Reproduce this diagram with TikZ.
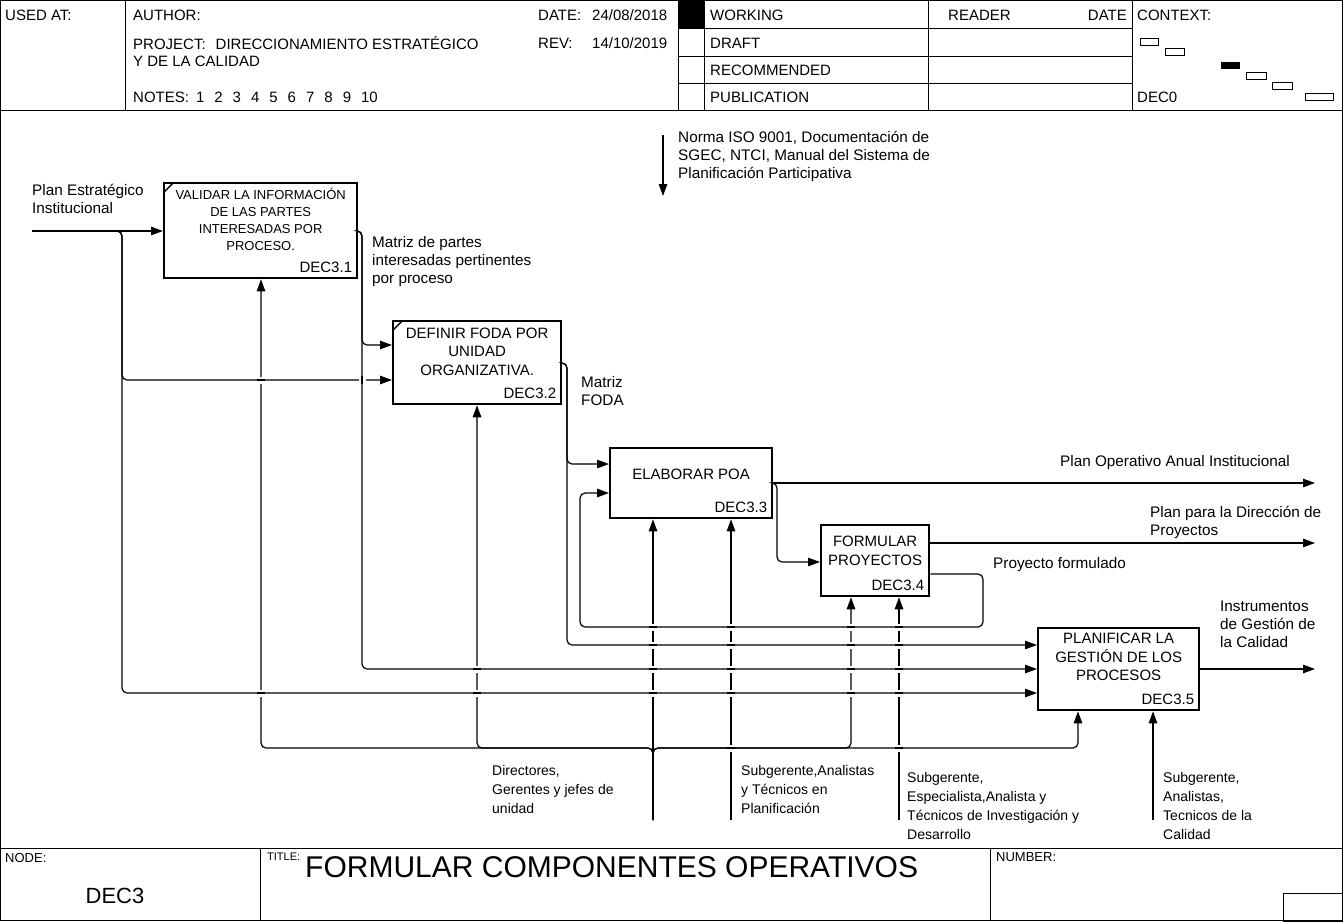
\documentclass[tikz,border=0pt]{standalone}
\usepackage{fontspec}
\setmainfont{Liberation Sans}
\usetikzlibrary{arrows.meta,positioning}

\tikzset{
  frame/.style={line width=0.9pt},
  func/.style={draw, line width=2.3pt, anchor=north west, align=center, inner sep=2pt,
    text depth=22pt, font=\fontsize{15}{18.5}\selectfont},
  flow/.style={line width=1.2pt, rounded corners=5pt},
  tip/.style={-{Triangle[length=12pt,width=8.5pt]}},
  lbl/.style={anchor=north west, align=left, inner sep=0pt, font=\fontsize{15.3}{18}\selectfont},
  mech/.style={anchor=north west, align=left, inner sep=0pt, font=\fontsize{14}{19}\selectfont},
  hdr/.style={anchor=west, inner sep=0pt, font=\fontsize{15}{18}\selectfont},
  nodeid/.style={anchor=south east, inner sep=0pt, xshift=-6pt, yshift=6pt,
    font=\fontsize{15}{18}\selectfont},
}
% gap in a vertical line where a horizontal one crosses it
\newcommand{\xgap}[2]{%
  \fill[white] (#1-1.6,#2-3.5) rectangle (#1+1.6,#2+3.5);
  \draw[line width=1.2pt] (#1-4,#2) -- (#1+4,#2);}
% gap in a horizontal line where a vertical one crosses it
\newcommand{\ygap}[2]{%
  \fill[white] (#1-3.5,#2-1.6) rectangle (#1+3.5,#2+1.6);
  \draw[line width=1.2pt] (#1,#2-4) -- (#1,#2+4);}

\begin{document}
\begin{tikzpicture}[x=1pt, y=-1pt]
  \useasboundingbox (0,0) rectangle (1343,921);

  % frame, header and footer
  \draw[frame] (0.5,0.5) rectangle (1342.5,920.5);
  \draw[frame] (0,110) -- (1343,110);
  \draw[frame] (0,848) -- (1343,848);
  \foreach \x in {125,678,704,928,1132} \draw[frame] (\x,0) -- (\x,110);
  \foreach \y in {28,56,83} \draw[frame] (678,\y) -- (1132,\y);
  \fill (678,0) rectangle (704,28);
  \draw[frame] (260,848) -- (260,921);
  \draw[frame] (990,848) -- (990,921);
  \draw[frame] (1283,893) rectangle (1343,921);

  \node[hdr] (usedat) at (5,15) {USED AT:};
  \node[hdr] (author) at (133,15) {AUTHOR:};
  \node[hdr] (date) at (538,15) {DATE:};
  \node[hdr] (dateval) at (592,15) {24/08/2018};
  \node[hdr] (project) at (133,43) {PROJECT:\hspace{10pt}DIRECCIONAMIENTO ESTRATÉGICO};
  \node[hdr] (rev) at (538,43) {REV:};
  \node[hdr] (revval) at (592,43) {14/10/2019};
  \node[hdr] (project2) at (133,61) {Y DE LA CALIDAD};
  \node[hdr] (notes) at (133,97) {NOTES:\hspace{7pt}1\hspace{10pt}2\hspace{10pt}3\hspace{10pt}4\hspace{10pt}5\hspace{10pt}6\hspace{10pt}7\hspace{10pt}8\hspace{10pt}9\hspace{10pt}10};
  \node[hdr] (working) at (710,15) {WORKING};
  \node[hdr] (draft) at (710,43) {DRAFT};
  \node[hdr] (recom) at (710,70) {RECOMMENDED};
  \node[hdr] (publ) at (710,97) {PUBLICATION};
  \node[hdr] (reader) at (948,15) {READER};
  \node[hdr, anchor=east] (rdate) at (1127,15) {DATE};
  \node[hdr] (context) at (1137,15) {CONTEXT:};
  \node[hdr] (dec0) at (1137,97) {DEC0};
  \foreach \a/\b/\c/\d in {1140/38/1158/45, 1165/48/1184/55, 1246/72/1266/79,
                           1272/82/1292/89, 1305/93/1333/100}
    \draw[line width=0.8pt] (\a,\b) rectangle (\c,\d);
  \fill (1221,62) rectangle (1240,69);

  \node[hdr, font=\fontsize{13}{16}\selectfont] (nodelbl) at (5,858) {NODE:};
  \node[font=\fontsize{22}{26}\selectfont] (nodenum) at (115,896) {DEC3};
  \node[hdr, font=\fontsize{11}{14}\selectfont] (titlelbl) at (267,857) {TITLE:};
  \node[hdr, font=\fontsize{30}{34}\selectfont] (title) at (305,867) {FORMULAR COMPONENTES OPERATIVOS};
  \node[hdr, font=\fontsize{13}{16}\selectfont] (numlbl) at (996,857) {NUMBER:};

  % activities
  \node[func, minimum width=193pt, minimum height=95pt, font=\fontsize{13}{17}\selectfont,
        label={[nodeid]south east:DEC3.1}] (a1) at (163,182)
        {VALIDAR LA INFORMACIÓN\\DE LAS PARTES\\INTERESADAS POR\\PROCESO.};
  \node[func, minimum width=168pt, minimum height=83pt,
        label={[nodeid]south east:DEC3.2}] (a2) at (392,320)
        {DEFINIR FODA POR\\UNIDAD\\ORGANIZATIVA.};
  \node[func, minimum width=162pt, minimum height=70pt, text depth=18pt,
        label={[nodeid]south east:DEC3.3}] (a3) at (609,447) {ELABORAR POA};
  \node[func, minimum width=108pt, minimum height=71pt, text depth=20pt,
        label={[nodeid]south east:DEC3.4}] (a4) at (820,524) {FORMULAR\\PROYECTOS};
  \node[func, minimum width=161pt, minimum height=82pt, text depth=24pt,
        label={[nodeid]south east:DEC3.5}] (a5) at (1037,627)
        {PLANIFICAR LA\\GESTIÓN DE LOS\\PROCESOS};
  \draw[line width=1.5pt] ([shift={(1.1pt,-10pt)}]a1.north west) -- ([shift={(10pt,-1.1pt)}]a1.north west);
  \draw[line width=1.5pt] ([shift={(1.1pt,-10pt)}]a2.north west) -- ([shift={(10pt,-1.1pt)}]a2.north west);

  % points of the routes
  \coordinate (in1) at (32,231);
  \coordinate (j1) at (122,380);
  \coordinate (j2) at (122,693);
  \coordinate (k1) at (362,345);
  \coordinate (k2) at (362,669);
  \coordinate (f0) at (567,363);
  \coordinate (f1) at (567,464);
  \coordinate (f2) at (567,645);
  \coordinate (p1) at (777,562);
  \coordinate (fb) at (983,574);
  \coordinate (q1) at (983,627);
  \coordinate (q3) at (580,493);
  \coordinate (o3) at (1315,483);
  \coordinate (o4) at (1315,543);
  \coordinate (o5) at (1315,669);
  \coordinate (ctl) at (663,135);
  \coordinate (ctlend) at (663,196);
  \coordinate (m1) at (653,820);
  \coordinate (m2) at (731,820);
  \coordinate (m3) at (899,820);
  \coordinate (m4) at (1153,820);
  \coordinate (u1) at (261,748);
  \coordinate (u2) at (477,748);
  \coordinate (u3) at (851,748);
  \coordinate (u4) at (1078,748);

  % inputs and outputs
  \draw[flow,tip] (in1) -- (in1 -| a1.west);
  \draw[flow,tip] (in1) -| (j1) -- (j1 -| a2.west);
  \draw[flow,tip] (in1) -| (j2) -- (j2 -| a5.west);
  \draw[flow,tip] (a1.east |- in1) -| (k1) -- (k1 -| a2.west);
  \draw[flow,tip] (a1.east |- in1) -| (k2) -- (k2 -| a5.west);
  \draw[flow,tip] (a2.east |- f0) -| (f1) -- (f1 -| a3.west);
  \draw[flow,tip] (a2.east |- f0) -| (f2) -- (f2 -| a5.west);
  \draw[flow,tip] (a3.east |- o3) -- (o3);
  \draw[flow,tip] (a3.east |- o3) -| (p1) -- (p1 -| a4.west);
  \draw[flow,tip] (a4.east |- o4) -- (o4);
  \draw[flow,tip] (a4.east |- fb) -| (q1) -| (q3) -- (q3 -| a3.west);
  \draw[flow,tip] (a5.east |- o5) -- (o5);
  \draw[flow,tip] (ctl) -- (ctlend);

  % mechanisms
  \draw[flow,tip] (m1) |- (u1) -- (u1 |- a1.south);
  \draw[flow,tip] (m1) |- (u2) -- (u2 |- a2.south);
  \draw[flow,tip] (m1) |- (u4) -- (u4 |- a5.south);
  \draw[flow,tip] (m1) |- (u3) -- (u3 |- a4.south);
  \draw[flow,tip] (m1) -- (m1 |- a3.south);
  \draw[flow,tip] (m2) -- (m2 |- a3.south);
  \draw[flow,tip] (m3) -- (m3 |- a4.south);
  \draw[flow,tip] (m4) -- (m4 |- a5.south);

  % crossings
  \foreach \x/\y in {261/380, 261/693, 477/669, 477/693,
                     653/627, 653/645, 653/669, 653/693,
                     731/627, 731/645, 731/669, 731/693, 731/748,
                     851/627, 851/645, 851/669, 851/693,
                     899/627, 899/645, 899/669, 899/693, 899/748}
    {\xgap{\x}{\y}}
  \ygap{362}{380}

  % arrow labels
  \node[lbl] (lin1) at (32,184) {Plan Estratégico\\Institucional};
  \node[lbl] (lo1) at (372,236) {Matriz de partes\\interesadas pertinentes\\por proceso};
  \node[lbl] (lo2) at (581,376) {Matriz\\FODA};
  \node[lbl] (lo3) at (1060,455) {Plan Operativo Anual Institucional};
  \node[lbl] (lo4) at (1150,506) {Plan para la Dirección de\\Proyectos};
  \node[lbl] (lfb) at (993,557) {Proyecto formulado};
  \node[lbl] (lo5) at (1220,601) {Instrumentos\\de Gestión de\\la Calidad};
  \node[lbl] (lctl) at (678,131) {Norma ISO 9001, Documentación de\\SGEC, NTCI, Manual del Sistema de\\Planificación Participativa};
  \node[mech] (lm1) at (492,765) {Directores,\\Gerentes y jefes de\\unidad};
  \node[mech] (lm2) at (741,765) {Subgerente,Analistas\\y Técnicos en\\Planificación};
  \node[mech] (lm3) at (907,772) {Subgerente,\\Especialista,Analista y\\Técnicos de Investigación y\\Desarrollo};
  \node[mech] (lm4) at (1163,772) {Subgerente,\\Analistas,\\Tecnicos de la\\Calidad};
\end{tikzpicture}
\end{document}
